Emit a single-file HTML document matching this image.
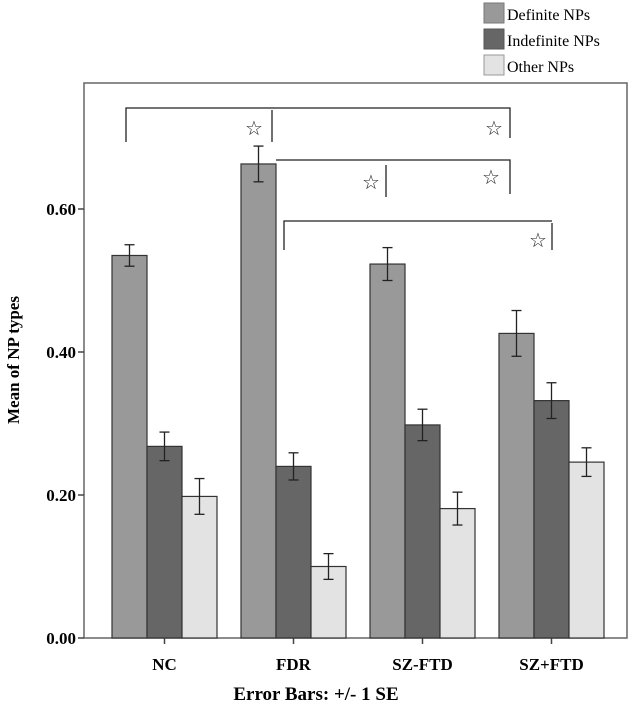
<!DOCTYPE html>
<html><head><meta charset="utf-8"><style>
html,body{margin:0;padding:0;background:#fff;}
svg{display:block;font-family:"Liberation Serif",serif;}
</style></head><body>
<svg id="chart" width="633" height="710">
<g id="legend">
<rect x="484" y="3" width="20" height="20" fill="#999" stroke="#777"/>
<text x="507" y="20" font-size="16">Definite NPs</text>
<rect x="484" y="29" width="20" height="20" fill="#666" stroke="#555"/>
<text x="507" y="46" font-size="16">Indefinite NPs</text>
<rect x="484" y="55" width="20" height="20" fill="#e3e3e3" stroke="#999"/>
<text x="507" y="72" font-size="16">Other NPs</text>
</g>
<rect x="84" y="83" width="543" height="555" fill="none" stroke="#666" stroke-width="1.5"/>
<g id="axes"></g>
<g id="bars"></g>
<g id="sig" stroke="#222" stroke-width="1.3" fill="none">
<polyline points="126,142 126,108 510,108 510,138"/>
<line x1="272" y1="110" x2="272" y2="142"/>
<polyline points="276,160 510,160 510,194"/>
<line x1="386" y1="165" x2="386" y2="197"/>
<polyline points="284,250 284,221 552,221"/>
<line x1="552" y1="223" x2="552" y2="250"/>
</g>
<g font-size="20" text-anchor="middle" fill="#222">
<text x="254" y="135">☆</text><text x="494" y="135">☆</text>
<text x="371" y="189">☆</text><text x="491" y="184">☆</text>
<text x="538" y="247">☆</text>
</g>
<text transform="translate(19,360) rotate(-90)" text-anchor="middle" font-size="17" font-weight="bold">Mean of NP types</text>
<text x="316" y="700" text-anchor="middle" font-size="19" font-weight="bold">Error Bars: +/- 1 SE</text>
</svg>
<script>
const categories = ["NC","FDR","SZ-FTD","SZ+FTD"];
const definite = [0.535,0.663,0.523,0.426];
const definiteErr = [0.015,0.025,0.023,0.032];
const indefinite = [0.268,0.240,0.298,0.332];
const indefiniteErr = [0.020,0.019,0.022,0.025];
const other = [0.198,0.100,0.181,0.246];
const otherErr = [0.025,0.018,0.023,0.020];
const yTicks = [0,0.2,0.4,0.6];
const yTickLabels = ["0.00","0.20","0.40","0.60"];

const NS="http://www.w3.org/2000/svg";
function y(v){return 638 - v*715;}
function xc(i){return 164.5 + i*129;}
const bw=35;
function mk(tag,attrs,parent){const e=document.createElementNS(NS,tag);for(const k in attrs)e.setAttribute(k,attrs[k]);parent.appendChild(e);return e;}
const axes=document.getElementById('axes');
const bars=document.getElementById('bars');
yTicks.forEach((t,i)=>{
  const l=mk('line',{x1:78,x2:84,y1:y(t),y2:y(t),stroke:'#444','stroke-width':1.5},axes);
  
  
  const tx=mk('text',{x:76,y:y(t)+6,'text-anchor':'end','font-size':17,'font-weight':'bold'},axes);
  tx.textContent=yTickLabels[i];
  
  
});
const series=[[definite,definiteErr,'#999','definite'],[indefinite,indefiniteErr,'#666','indefinite'],[other,otherErr,'#e3e3e3','other']];
categories.forEach((c,i)=>{
  const cx=xc(i);
  series.forEach((s,j)=>{
    const x0=cx-bw*1.5+j*bw;
    const v=s[0][i], e=s[1][i];
    const r=mk('rect',{x:x0,y:y(v),width:bw,height:638-y(v),fill:s[2],stroke:'#333','stroke-width':1.2},bars);
    
    
    const m=x0+bw/2;
    const g=mk('g',{stroke:'#222','stroke-width':1.3},bars);
    
    
    mk('line',{x1:m,x2:m,y1:y(v+e),y2:y(v-e)},g);
    mk('line',{x1:m-5,x2:m+5,y1:y(v+e),y2:y(v+e)},g);
    mk('line',{x1:m-5,x2:m+5,y1:y(v-e),y2:y(v-e)},g);
  });
  const tk=mk('line',{x1:cx,x2:cx,y1:638,y2:644,stroke:'#444','stroke-width':1.5},axes);
  
  
  const t=mk('text',{x:cx,y:670,'text-anchor':'middle','font-size':17,'font-weight':'bold'},axes);
  t.textContent=c;
  
  
});
</script>
</body></html>
